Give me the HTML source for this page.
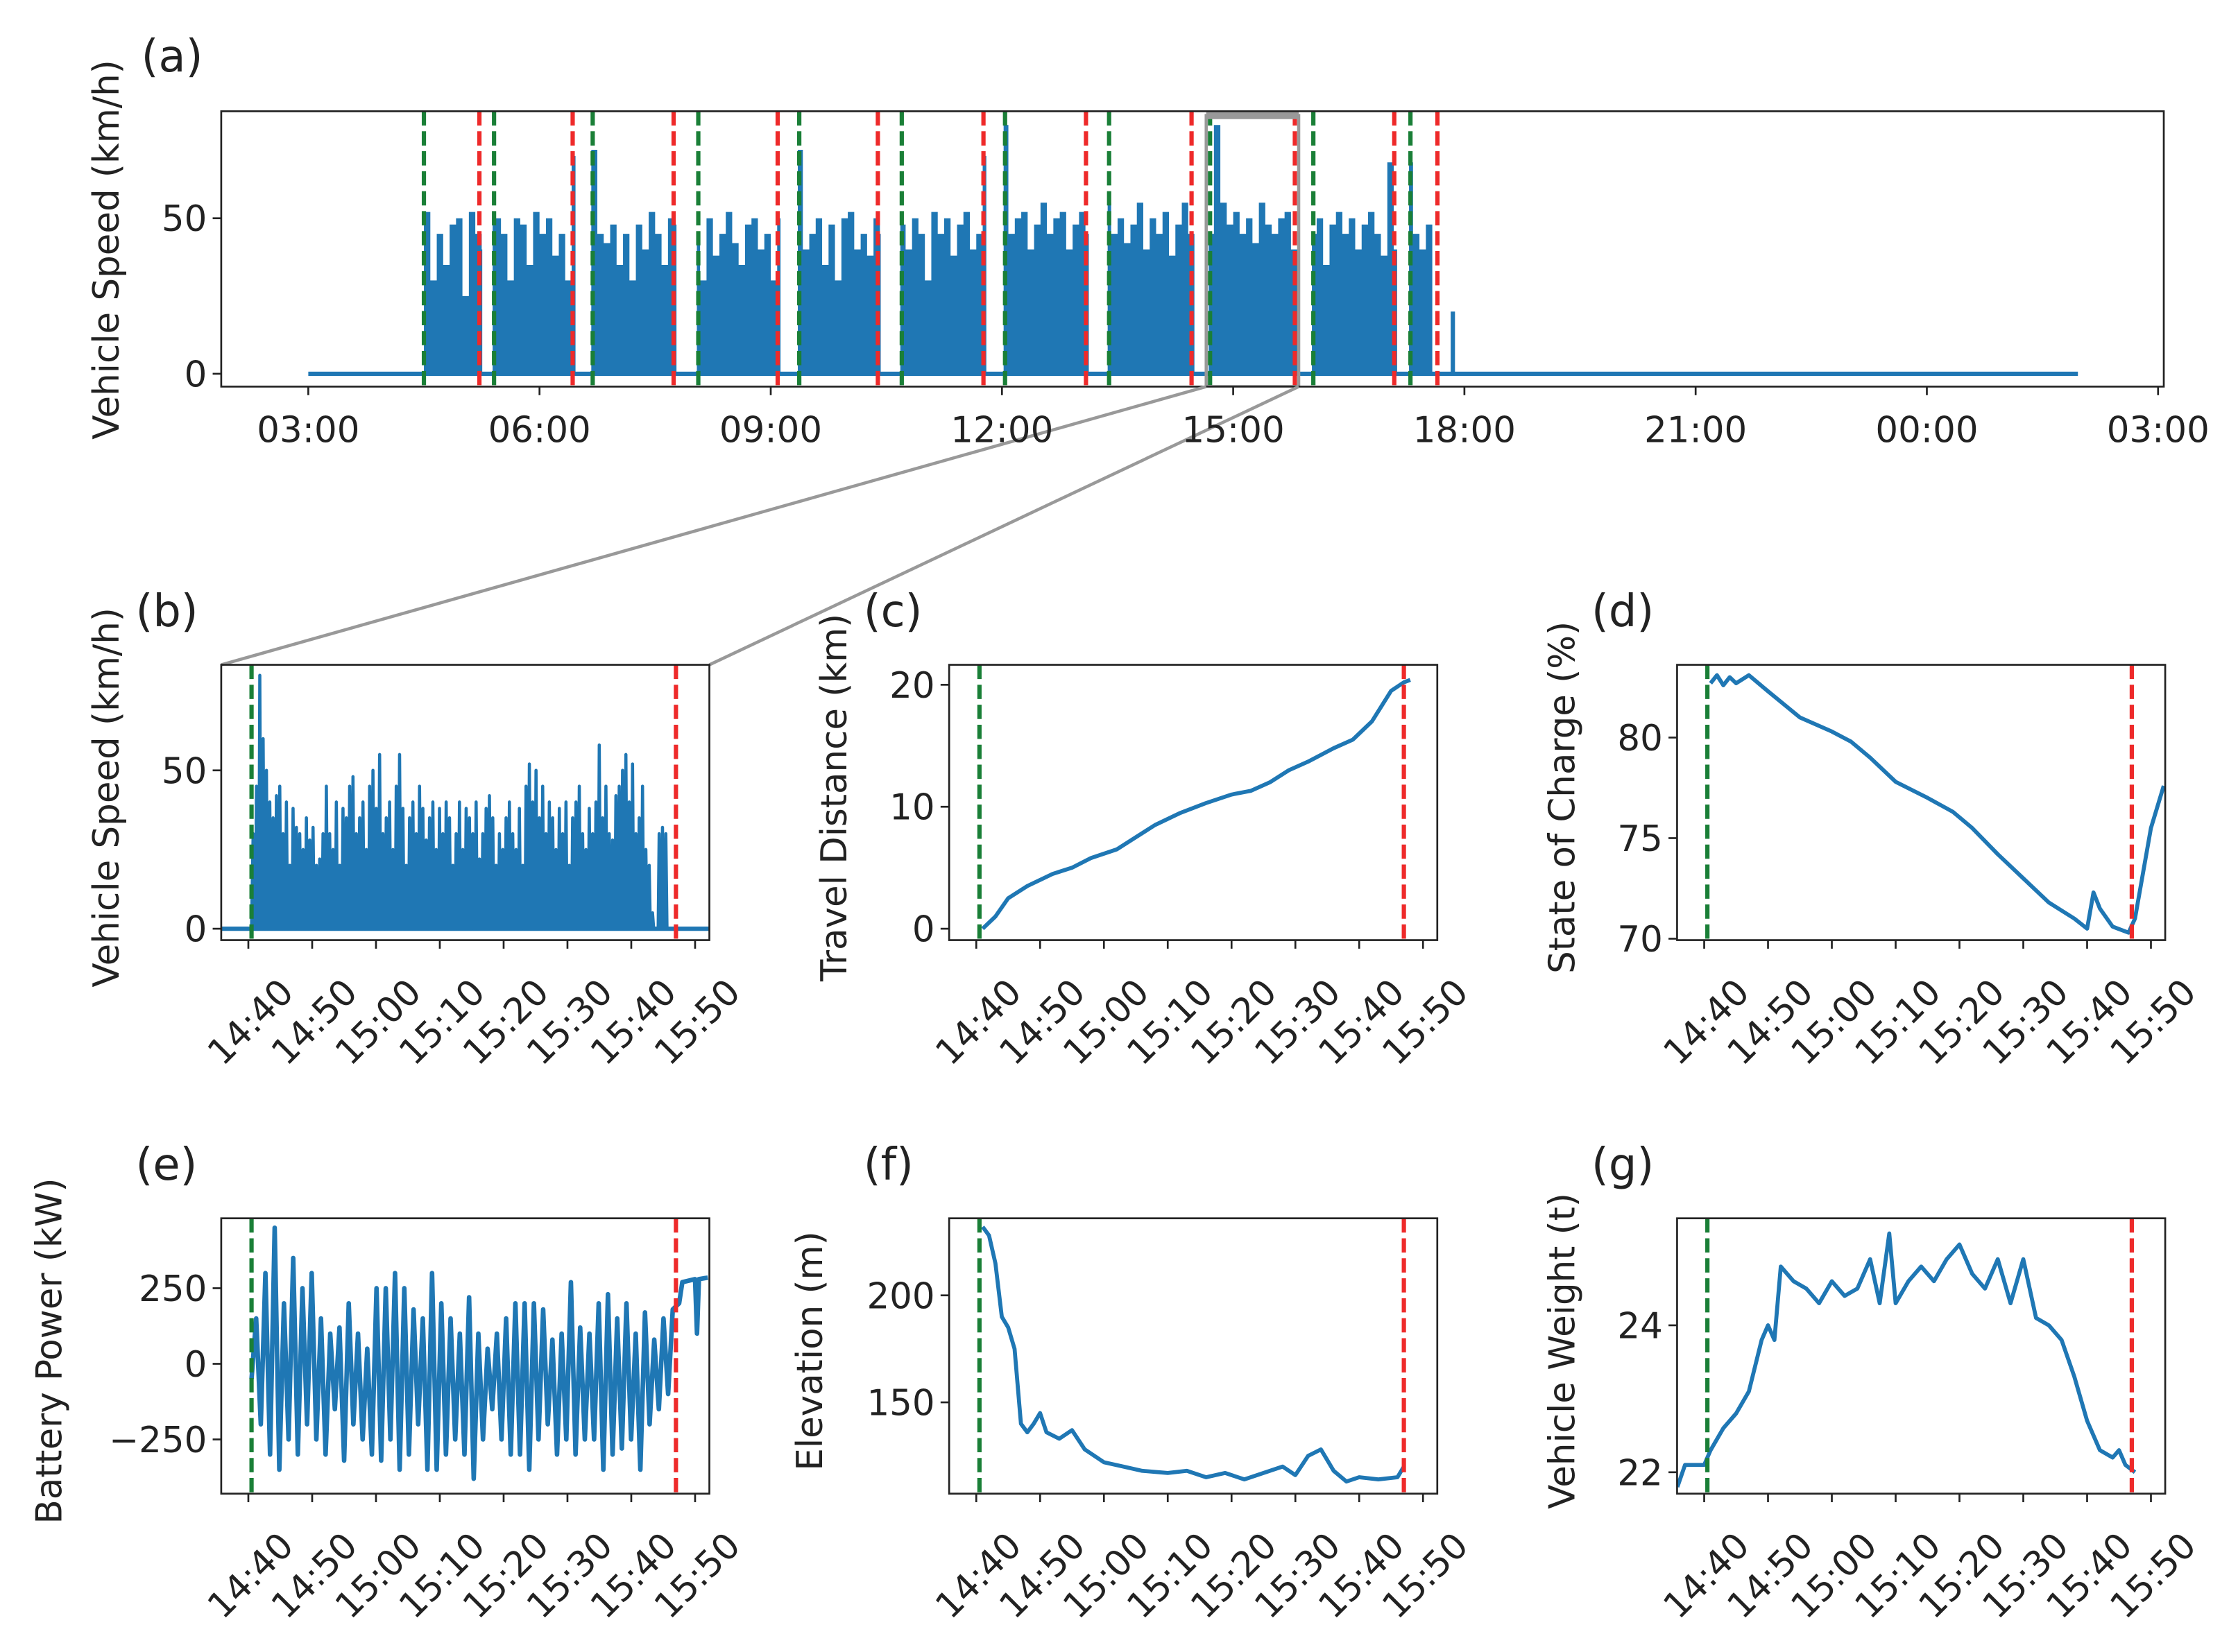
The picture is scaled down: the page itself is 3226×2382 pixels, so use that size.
<!DOCTYPE html>
<html><head><meta charset="utf-8"><title>Vehicle trip data</title>
<style>
html,body{margin:0;padding:0;background:#fff;}
svg{display:block;font-family:"DejaVu Sans","Liberation Sans",sans-serif;}
</style></head>
<body>
<svg id="fig" width="3226" height="2382" viewBox="0 0 1568 1158" preserveAspectRatio="none" xmlns="http://www.w3.org/2000/svg"></svg>
<script>
// ---------- data ----------
const aBinStartH = 1.5;
const aBinStepH = 1/12;
const aPeaks = [52,30,45,35,48,50,25,52,45,40,
52,50,45,30,50,48,35,52,45,50,
38,45,30,70,50,48,72,45,42,48,
35,45,30,48,40,52,45,35,50,48,
52,40,45,30,50,38,45,52,42,35,
48,50,40,45,30,50,38,45,72,40,
45,50,35,48,30,50,52,40,45,38,
50,45,52,35,48,40,50,45,30,52,
45,50,38,48,52,40,45,70,48,50,
80,45,50,52,40,48,55,45,50,52,
40,48,52,45,50,38,55,45,50,42,
48,55,40,50,45,52,38,48,55,45,
50,70,45,80,55,48,52,45,50,42,
55,48,45,50,52,40,48,55,45,50,
35,48,52,45,50,40,48,52,45,38,
68,40,45,68,45,40,48,0,0,0];
const aGreen = [1.5,2.41,3.69,5.06,6.37,7.70,9.04,10.39,11.70,13.04,14.30];
const aRed = [2.22,3.43,4.74,6.09,7.39,8.76,10.09,11.46,12.80,14.09,14.65];
const aZeroRange = [0,22.96];
const aSpike = [14.85,20];
const aTickLabels = ["03:00","06:00","09:00","12:00","15:00","18:00","21:00","00:00","03:00"];
const aZoom = [11.65,12.85];

const tTickLabels = ["14:40","14:50","15:00","15:10","15:20","15:30","15:40","15:50"];
const tGreen = 40.5, tRed = 107;
const bSpeed = [30,45,80,60,50,40,35,42,45,30,40,20,38,32,30,25,35,28,32,20,22,30,45,30,25,40,20,38,35,45,48,30,35,40,25,45,50,38,55,30,35,40,25,45,55,38,20,35,40,30,45,38,28,35,40,25,38,30,40,35,20,30,40,25,38,35,30,40,22,30,38,42,35,20,30,25,35,40,30,25,38,20,45,52,40,50,35,45,30,40,35,25,38,30,40,20,35,40,45,30,25,38,30,40,58,35,45,30,28,42,45,50,55,40,52,30,35,45,25,20,5,0,30,32,30,0,0,0];
const bStartT = 40.75, bEndT = 107.5;
const cT = [41,43,45,48,52,55,58,62,65,68,72,76,80,83,86,89,92,96,99,102,105,107,108];
const cV = [0,1,2.5,3.5,4.5,5,5.8,6.5,7.5,8.5,9.5,10.3,11,11.3,12,13,13.7,14.8,15.5,17,19.5,20.2,20.4];
const dT = [41,42,43,44,45,47,50,55,60,63,66,70,75,79,82,86,90,94,98,100,101,102,104,106.5,107.5,110,112];
const dV = [82.7,83.1,82.6,83,82.7,83.1,82.3,81,80.3,79.8,79,77.8,77,76.3,75.5,74.2,73,71.8,71,70.5,72.3,71.5,70.6,70.3,71,75.5,77.6];
const eV = [-50,150,-200,300,-300,450,-350,200,-250,350,-300,250,-200,300,-250,150,-300,100,-150,120,-320,200,-200,100,-250,50,-300,250,-320,250,-250,300,-350,250,-300,180,-200,150,-350,300,-350,200,-300,150,-250,100,-300,220,-380,100,-250,50,-150,100,-250,150,-300,200,-300,200,-350,200,-250,180,-200,80,-300,100,-250,270,-300,120,-250,100,-250,200,-350,230,-300,150,-280,200,-250,100,-350,170,-200,80,-150,150,-100,180];
const eStartT = 40.5, eEndT = 106.5;
const eTailT = [106.5,107.5,108,110,110.3,110.6,112];
const eTailV = [180,200,270,280,100,280,285];
const fT = [41,42,43,44,45,46,47,48,49,50,51,53,55,57,60,63,66,70,73,76,79,82,85,88,90,92,94,96,98,100,103,106,107];
const fV = [232,228,215,190,185,175,140,136,140,145,136,133,137,128,122,120,118,117,118,115,117,114,117,120,116,125,128,118,113,115,114,115,120];
const gT = [35.8,37,40,41,43,45,47,49,50,51,52,54,56,58,60,62,64,66,67.5,69,70,72,74,76,78,80,82,84,86,88,90,92,94,96,98,100,102,104,105,106,107.5];
const gV = [21.8,22.1,22.1,22.3,22.6,22.8,23.1,23.8,24.0,23.8,24.8,24.6,24.5,24.3,24.6,24.4,24.5,24.9,24.3,25.25,24.3,24.6,24.8,24.6,24.9,25.1,24.7,24.5,24.9,24.3,24.9,24.1,24.0,23.8,23.3,22.7,22.3,22.2,22.3,22.1,22.0];

// ---------- helpers ----------
const NS = "http://www.w3.org/2000/svg";
const svg = document.getElementById("fig");
const BLUE = "#1f77b4", GREEN = "#1a7f37", RED = "#ee2a2a", FS = 25;
function mk(tag, attrs, parent) {
  const el = document.createElementNS(NS, tag);
  for (const k in attrs) el.setAttribute(k, attrs[k]);
  (parent || svg).appendChild(el);
  return el;
}
function txt(s, attrs, parent) { const t = mk("text", attrs, parent); t.textContent = s; return t; }
function lin(d0, d1, r0, r1) { return v => r0 + (v - d0) * (r1 - r0) / (d1 - d0); }
let clipId = 0;
function clipFor(x0, y0, x1, y1) {
  const id = "clip" + (clipId++);
  const cp = mk("clipPath", { id: id });
  mk("rect", { x: x0, y: y0, width: x1 - x0, height: y1 - y0 }, cp);
  return id;
}
function frame(x0, y0, x1, y1, name) {
  const r = mk("rect", { x: x0, y: y0, width: x1 - x0, height: y1 - y0, fill: "none", stroke: "#222", "stroke-width": 1.3 });
  
  
}
function yTicks(vals, labels, ys, xLeft, name) {
  const g = mk("g", {});
  
  
  vals.forEach((v, i) => {
    const y = ys(v);
    mk("line", { x1: xLeft - 6, x2: xLeft, y1: y, y2: y, stroke: "#222", "stroke-width": 1.3 }, g);
    txt(labels[i], { x: xLeft - 10, y: y + 9, "text-anchor": "end", "font-size": FS, fill: "#222" }, g);
  });
}
function vline(x, y0, y1, color, name, parent) {
  const l = mk("line", { x1: x, x2: x, y1: y0, y2: y1, stroke: color, "stroke-width": 3, "stroke-dasharray": "10,4" }, parent);
  
  
}
function poly(pts, name, parent, extra) {
  const p = mk("polyline", Object.assign({ points: pts.map(p => p[0].toFixed(2) + "," + p[1].toFixed(2)).join(" "), fill: "none", stroke: BLUE, "stroke-width": 2.8, "stroke-linejoin": "round" }, extra || {}), parent);
  
  
  return p;
}

// ---------- panel (a) ----------
(function () {
  const X0 = 155, X1 = 1516, Y0 = 78, Y1 = 271;
  const xs = lin(0, 24, 216, 1512);
  const ys = lin(0, 50, 262, 153);
  const cid = clipFor(X0, Y0, X1, Y1);
  const g = mk("g", { "clip-path": "url(#" + cid + ")" });
  
  
  const tcId = "tripclip";
  const tc = mk("clipPath", { id: tcId });
  aGreen.forEach((gH, i) => {
    mk("rect", { x: xs(gH) - 1, y: 0, width: xs(aRed[i]) - xs(gH) + 3, height: 400 }, tc);
  });
  poly([[xs(aZeroRange[0]), ys(0)], [xs(aZeroRange[1]), ys(0)]], "speed-zero-line", g, { "stroke-width": 3 });
  let pts = [[xs(aBinStartH), ys(0)]];
  aPeaks.forEach((v, i) => {
    const t0 = aBinStartH + i * aBinStepH;
    pts.push([xs(t0), ys(v)]);
    pts.push([xs(t0 + aBinStepH), ys(v)]);
  });
  pts.push([xs(aBinStartH + aPeaks.length * aBinStepH), ys(0)]);
  const area = mk("polygon", { points: pts.map(p => p[0].toFixed(1) + "," + p[1].toFixed(1)).join(" "), fill: BLUE, "clip-path": "url(#" + tcId + ")" }, g);
  
  
  poly([[xs(aSpike[0]), ys(0)], [xs(aSpike[0]), ys(aSpike[1])]], "speed-spike", g, { "stroke-width": 3 });
  aGreen.forEach(h => vline(xs(h), Y0, Y1, GREEN, "trip-start-line", g));
  aRed.forEach(h => vline(xs(h), Y0, Y1, RED, "trip-end-line", g));
  const zb = mk("rect", { x: xs(aZoom[0]), y: Y0 + 3, width: xs(aZoom[1]) - xs(aZoom[0]), height: Y1 - Y0 - 3, fill: "none", stroke: "#999", "stroke-width": 2.2 }, g);
  
  
  mk("line", { x1: xs(aZoom[0]), x2: xs(aZoom[1]), y1: Y0 + 3, y2: Y0 + 3, stroke: "#999", "stroke-width": 5 }, g);
  frame(X0, Y0, X1, Y1, "panel-a-axes");
  const c1 = mk("line", { x1: xs(aZoom[0]), y1: Y1, x2: 155, y2: 466, stroke: "#999", "stroke-width": 2.2 });
  
  
  const c2 = mk("line", { x1: xs(aZoom[1]), y1: Y1, x2: 497, y2: 466, stroke: "#999", "stroke-width": 2.2 });
  
  
  yTicks([0, 50], ["0", "50"], ys, X0, "panel-a-y-ticks");
  const xt = mk("g", {});
  
  
  aTickLabels.forEach((l, i) => {
    const x = xs(i * 3);
    mk("line", { x1: x, x2: x, y1: Y1, y2: Y1 + 6, stroke: "#222", "stroke-width": 1.3 }, xt);
    txt(l, { x: x, y: Y1 + 39, "text-anchor": "middle", "font-size": FS, fill: "#222" }, xt);
  });
  const yl = txt("Vehicle Speed (km/h)", { x: 0, y: 0, transform: "translate(83,175) rotate(-90)", "text-anchor": "middle", "font-size": FS, fill: "#222" });
  
  
  const pl = txt("(a)", { x: 99, y: 50, "font-size": 31, fill: "#222" });
  
  
})();

// ---------- small panels ----------
function smallPanel(opts) {
  const X0 = opts.x0, X1 = X0 + 342, Y0 = opts.y0, Y1 = Y0 + 193;
  const xs = lin(40, 110, X0 + 19, X0 + 332);
  const ys = lin(opts.yd[0], opts.yd[1], opts.yr[0], opts.yr[1]);
  const cid = clipFor(X0, Y0, X1, Y1);
  const g = mk("g", { "clip-path": "url(#" + cid + ")" });
  
  
  opts.draw(g, xs, ys, X0, X1);
  vline(xs(tGreen), Y0, Y1, GREEN, "trip-start-line", g);
  vline(xs(tRed), Y0, Y1, RED, "trip-end-line", g);
  frame(X0, Y0, X1, Y1, opts.name + "-axes");
  yTicks(opts.ticks, opts.tickLabels, ys, X0, opts.name + "-y-ticks");
  const xt = mk("g", {});
  
  
  tTickLabels.forEach((l, i) => {
    const x = xs(40 + i * 10);
    mk("line", { x1: x, x2: x, y1: Y1, y2: Y1 + 6, stroke: "#222", "stroke-width": 1.3 }, xt);
    txt(l, { x: 0, y: 0, transform: "translate(" + (x + 33) + "," + (Y1 + 38) + ") rotate(-45)", "text-anchor": "end", "font-size": FS, fill: "#222" }, xt);
  });
  const yl = txt(opts.title, { x: 0, y: 0, transform: "translate(" + opts.tx + "," + (Y0 + 93) + ") rotate(-90)", "text-anchor": "middle", "font-size": FS, fill: "#222" });
  
  
  const pl = txt(opts.label, { x: X0 - 60, y: Y0 - 27, "font-size": 31, fill: "#222" });
  
  
}

smallPanel({ name: "panel-b", x0: 155, y0: 466, yd: [0, 50], yr: [651, 540], ticks: [0, 50], tickLabels: ["0", "50"], title: "Vehicle Speed (km/h)", tx: 83, label: "(b)",
  draw: (g, xs, ys, X0, X1) => {
    poly([[X0, ys(0)], [X1, ys(0)]], "speed-zero-line", g, { "stroke-width": 3 });
    const step = (bEndT - bStartT) / bSpeed.length;
    const pts = [[xs(tGreen), ys(0)]];
    bSpeed.forEach((v, i) => {
      const t = bStartT + i * step;
      pts.push([xs(t), ys(v)]);
      pts.push([xs(t + step * 0.35), ys(0)]);
      pts.push([xs(t + step * 0.7), ys(0)]);
    });
    poly(pts, "speed-line", g, { "stroke-width": 2.2 });
  } });
smallPanel({ name: "panel-c", x0: 665, y0: 466, yd: [0, 20], yr: [651, 480], ticks: [0, 10, 20], tickLabels: ["0", "10", "20"], title: "Travel Distance (km)", tx: 593, label: "(c)",
  draw: (g, xs, ys) => { poly(cT.map((t, i) => [xs(t), ys(cV[i])]), "distance-line", g); } });
smallPanel({ name: "panel-d", x0: 1175, y0: 466, yd: [70, 80], yr: [658, 517], ticks: [70, 75, 80], tickLabels: ["70", "75", "80"], title: "State of Charge (%)", tx: 1103, label: "(d)",
  draw: (g, xs, ys) => { poly(dT.map((t, i) => [xs(t), ys(dV[i])]), "soc-line", g); } });
smallPanel({ name: "panel-e", x0: 155, y0: 854, yd: [0, 250], yr: [956, 903], ticks: [-250, 0, 250], tickLabels: ["\u2212250", "0", "250"], title: "Battery Power (kW)", tx: 43, label: "(e)",
  draw: (g, xs, ys) => {
    const step = (eEndT - eStartT) / (eV.length - 1);
    const pts = eV.map((v, i) => [xs(eStartT + i * step), ys(v)]);
    eTailT.forEach((t, i) => pts.push([xs(t), ys(eTailV[i])]));
    poly(pts, "power-line", g, { "stroke-width": 3.2 });
  } });
smallPanel({ name: "panel-f", x0: 665, y0: 854, yd: [150, 200], yr: [983, 908], ticks: [150, 200], tickLabels: ["150", "200"], title: "Elevation (m)", tx: 576, label: "(f)",
  draw: (g, xs, ys) => { poly(fT.map((t, i) => [xs(t), ys(fV[i])]), "elevation-line", g); } });
smallPanel({ name: "panel-g", x0: 1175, y0: 854, yd: [22, 24], yr: [1032, 929], ticks: [22, 24], tickLabels: ["22", "24"], title: "Vehicle Weight (t)", tx: 1103, label: "(g)",
  draw: (g, xs, ys) => { poly(gT.map((t, i) => [xs(t), ys(gV[i])]), "weight-line", g); } });
</script>
</body></html>
